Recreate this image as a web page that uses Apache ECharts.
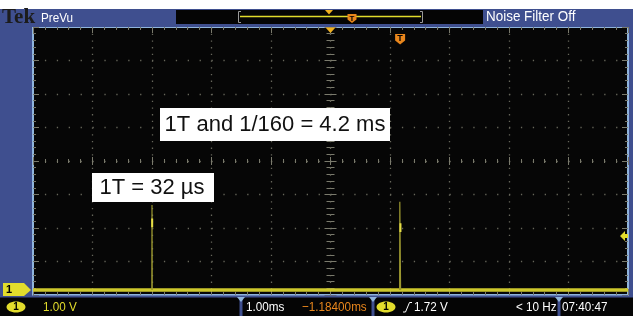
<!DOCTYPE html>
<html>
<head>
<meta charset="utf-8">
<script src="https://cdn.jsdelivr.net/npm/echarts@6/dist/echarts.min.js"></script>
<style>
  html, body { margin: 0; padding: 0; background: #fff; }
  #chart { width: 633px; height: 316px; }
</style>
</head>
<body>
<div id="chart"></div>
<script>
// horizontal: ms relative to screen centre (1.00 ms/div), vertical: divisions (1.00 V/div)
const xRange = [-5, 5]
const yRange = [-4, 4]

// ch1 baseline (ground sits just above the bottom graticule line)
const baseT = [-5, -3.0, -2.99, 1.16, 1.18, 5]
const baseV = [-3.85, -3.85, -3.85, -3.85, -3.85, -3.85]

// the two pulses, 4.2 ms apart
const pulseT = [-3.003, -3.0, -2.996, null, 1.162, 1.165, 1.178]
const pulseV = [-3.85, -1.31, -3.85, null, -3.85, -1.22, -3.85]

// brighter part of each pulse
const glowT = [-2.997, -2.997, null, 1.176, 1.176]
const glowV = [-1.72, -1.98, null, -1.86, -2.12]

// markers
const groundLevel = -3.85
const trigLevel = -2.24
const trigTime = 1.17

const annoTexts = ['1T and 1/160 = 4.2 ms', '1T = 32 µs']

const zip = (t, v) => t.map((x, i) => (x === null ? null : [x, v[i]]))

const BLUE = '#3f4f8f'
const EDGE = '#8fb4dc'
const TICK = '#7a7a6c'
const YEL = '#e2dc2c'
const ORANGE = '#e8861c'
const SANS = '"Liberation Sans", Arial, sans-serif'

function xAx(opt) {
  return Object.assign({
    type: 'value', min: xRange[0], max: xRange[1], interval: 1,
    axisLabel: { show: false },
    axisLine: { show: false, onZero: false },
    axisTick: { show: true, inside: true, length: 6, lineStyle: { color: TICK } },
    minorTick: { show: true, splitNumber: 5, length: 3, lineStyle: { color: TICK } },
    splitLine: { show: false }
  }, opt)
}
function yAx(opt) {
  return Object.assign({
    type: 'value', min: yRange[0], max: yRange[1], interval: 1,
    axisLabel: { show: false },
    axisLine: { show: false, onZero: false },
    axisTick: { show: true, inside: true, length: 6, lineStyle: { color: TICK } },
    minorTick: { show: true, splitNumber: 5, length: 3, lineStyle: { color: TICK } },
    splitLine: { show: false }
  }, opt)
}

const chart = echarts.init(document.getElementById('chart'))

chart.setOption({
  backgroundColor: '#ffffff',
  animation: false,
  grid: { left: 33, top: 27, width: 595, height: 268, show: true, backgroundColor: '#060606', borderWidth: 0 },
  xAxis: [
    xAx({
      position: 'bottom',
      axisLine: { show: true, onZero: false, lineStyle: { color: EDGE, width: 2 } },
      splitLine: { show: true, lineStyle: { color: '#66665a', width: 1.3, type: [1.3, 5.4] } }
    }),
    xAx({ position: 'top', axisLine: { show: true, onZero: false, lineStyle: { color: EDGE, width: 2 } } }),
    // centre crosshair ticks, both sides
    xAx({ position: 'bottom', offset: -134, axisTick: { show: true, inside: true, length: 4, lineStyle: { color: TICK } }, minorTick: { show: true, splitNumber: 5, length: 2, lineStyle: { color: TICK } } }),
    xAx({ position: 'bottom', offset: -134, axisTick: { show: true, inside: false, length: 4, lineStyle: { color: TICK } }, minorTick: { show: true, splitNumber: 5, length: 2, lineStyle: { color: TICK } } })
  ],
  yAxis: [
    yAx({
      position: 'left',
      axisLine: { show: true, onZero: false, lineStyle: { color: EDGE, width: 2 } },
      splitLine: { show: true, lineStyle: { color: '#66665a', width: 1.3, type: [1.3, 10.6] } }
    }),
    yAx({ position: 'right', axisLine: { show: true, onZero: false, lineStyle: { color: EDGE, width: 2 } } }),
    yAx({ position: 'left', offset: -297.5, axisTick: { show: true, inside: true, length: 6, lineStyle: { color: TICK } }, minorTick: { show: true, splitNumber: 5, length: 4, lineStyle: { color: TICK } } }),
    yAx({ position: 'left', offset: -297.5, axisTick: { show: true, inside: false, length: 6, lineStyle: { color: TICK } }, minorTick: { show: true, splitNumber: 5, length: 4, lineStyle: { color: TICK } } })
  ],
  series: [
    {
      name: 'baseline', type: 'line', data: zip(baseT, baseV), symbol: 'none',
      lineStyle: { color: '#cdc72c', width: 3.5 }, z: 3
    },
    {
      name: 'pulse', type: 'line', data: zip(pulseT, pulseV), symbol: 'none', connectNulls: false,
      lineStyle: { color: '#9c9830', width: 1.2 }, z: 4
    },
    {
      name: 'glow', type: 'line', data: zip(glowT, glowV), symbol: 'none', connectNulls: false,
      lineStyle: { color: '#e6de46', width: 2 }, z: 5
    }
  ]
})

const px = (x, y) => chart.convertToPixel({ gridIndex: 0 }, [x, y])
const gnd = px(xRange[0], groundLevel)
const trg = px(xRange[1], trigLevel)
const ctr = px(0, yRange[1])
const tpos = px(trigTime, yRange[1])

function badge(x, y) {
  return [
    { type: 'ellipse', shape: { cx: x + 9, cy: y, rx: 9.5, ry: 5.5 }, style: { fill: YEL }, z: 20 },
    { type: 'text', style: { text: '1', x: x + 9, y: y + 0.5, fill: '#000', font: 'bold 10px ' + SANS, align: 'center', verticalAlign: 'middle' }, z: 21 }
  ]
}
function sep(x) {
  return [
    { type: 'rect', shape: { x: x - 1.5, y: 297, width: 3, height: 19 }, style: { fill: BLUE }, z: 20 },
    { type: 'polygon', shape: { points: [[x - 4, 297], [x + 4, 297], [x, 302]] }, style: { fill: EDGE }, z: 21 }
  ]
}
// condensed readout text, like the scope's own font
function txt(text, x, y, fill, size, sx) {
  return {
    type: 'text', x, y, scaleX: sx == null ? 0.9 : sx,
    style: { text, x: 0, y: 0, fill, font: size + 'px ' + SANS, verticalAlign: 'middle' },
    z: 22
  }
}

const g = [
  // frame
  { type: 'rect', shape: { x: 0, y: 9, width: 633, height: 18 }, style: { fill: BLUE }, z: 10 },
  { type: 'rect', shape: { x: 0, y: 9, width: 32, height: 288 }, style: { fill: BLUE }, z: 10 },
  { type: 'rect', shape: { x: 629, y: 9, width: 4, height: 288 }, style: { fill: BLUE }, z: 10 },
  { type: 'rect', shape: { x: 0, y: 296, width: 633, height: 20 }, style: { fill: '#050505' }, z: 10 },
  { type: 'rect', shape: { x: 0, y: 295.5, width: 633, height: 2 }, style: { fill: BLUE }, z: 11 },

  // top status bar
  { type: 'text', style: { text: 'Tek', x: 2, y: 7, fill: '#1c1c1c', font: 'bold 21px "Liberation Serif", "DejaVu Serif", serif' }, z: 22 },
  txt('PreVu', 41, 18, '#ffffff', 13, 0.9),
  { type: 'rect', shape: { x: 176, y: 10, width: 307, height: 14 }, style: { fill: '#050505' }, z: 15 },
  { type: 'polyline', shape: { points: [[241, 11.5], [238.5, 11.5], [238.5, 22.5], [241, 22.5]] }, style: { stroke: '#9a9a9a', lineWidth: 1, fill: null }, z: 16 },
  { type: 'polyline', shape: { points: [[420, 11.5], [422.5, 11.5], [422.5, 22.5], [420, 22.5]] }, style: { stroke: '#9a9a9a', lineWidth: 1, fill: null }, z: 16 },
  { type: 'line', shape: { x1: 240, y1: 16.5, x2: 421, y2: 16.5 }, style: { stroke: YEL, lineWidth: 1.5 }, z: 16 },
  { type: 'polygon', shape: { points: [[325, 10], [333, 10], [329, 14.5]] }, style: { fill: '#f0b020' }, z: 17 },
  { type: 'polygon', shape: { points: [[347.5, 14], [356.5, 14], [356.5, 19.5], [352, 23], [347.5, 19.5]] }, style: { fill: ORANGE }, z: 17 },
  { type: 'text', style: { text: 'T', x: 352, y: 18.5, fill: '#000', font: 'bold 8px ' + SANS, align: 'center', verticalAlign: 'middle' }, z: 18 },
  txt('Noise Filter Off', 486, 17, '#ffffff', 14, 0.96),

  // in-graticule markers
  { type: 'polygon', shape: { points: [[ctr[0] - 5, 27.5], [ctr[0] + 5, 27.5], [ctr[0], 33]] }, style: { fill: '#f0b020' }, z: 17 },
  { type: 'polygon', shape: { points: [[tpos[0] - 5, 34], [tpos[0] + 5, 34], [tpos[0] + 5, 40.5], [tpos[0], 44.5], [tpos[0] - 5, 40.5]] }, style: { fill: ORANGE }, z: 17 },
  { type: 'text', style: { text: 'T', x: tpos[0], y: 39, fill: '#000', font: 'bold 9px ' + SANS, align: 'center', verticalAlign: 'middle' }, z: 18 },

  // channel 1 ground marker
  { type: 'polygon', shape: { points: [[3, gnd[1] - 7], [24, gnd[1] - 7], [31, gnd[1]], [24, gnd[1] + 6], [3, gnd[1] + 6]] }, style: { fill: YEL }, z: 17 },
  { type: 'text', style: { text: '1', x: 9, y: gnd[1], fill: '#000', font: 'bold 11px ' + SANS, align: 'center', verticalAlign: 'middle' }, z: 18 },

  // trigger level arrow
  { type: 'polygon', shape: { points: [[trg[0] - 8, trg[1]], [trg[0] - 3, trg[1] - 5], [trg[0] - 3, trg[1] - 2], [trg[0], trg[1] - 2], [trg[0], trg[1] + 2], [trg[0] - 3, trg[1] + 2], [trg[0] - 3, trg[1] + 5]] }, style: { fill: YEL }, z: 17 },

  // annotation boxes
  { type: 'rect', shape: { x: 160, y: 108, width: 230, height: 33 }, style: { fill: '#ffffff' }, z: 25 },
  { type: 'text', style: { text: annoTexts[0], x: 275, y: 125, fill: '#111', font: '22px ' + SANS, align: 'center', verticalAlign: 'middle' }, z: 26 },
  { type: 'rect', shape: { x: 92, y: 173, width: 122, height: 29 }, style: { fill: '#ffffff' }, z: 25 },
  { type: 'text', style: { text: annoTexts[1], x: 152, y: 188, fill: '#111', font: '22px ' + SANS, align: 'center', verticalAlign: 'middle' }, z: 26 },

  // bottom readout
  ...badge(7, 307),
  txt('1.00 V', 43, 307.5, YEL, 13),
  ...sep(241),
  txt('1.00ms', 246, 307.5, '#ffffff', 13),
  txt('\u22121.18400ms', 302, 307.5, ORANGE, 13),
  ...sep(373),
  ...badge(377, 307),
  { type: 'polyline', shape: { points: [[403, 312], [405.5, 312], [409.5, 302.5], [412, 302.5]] }, style: { stroke: '#ffffff', lineWidth: 1, fill: null }, z: 22 },
  txt('1.72 V', 414, 307.5, '#ffffff', 13),
  txt('< 10 Hz', 516, 307.5, '#ffffff', 13),
  ...sep(559),
  txt('07:40:47', 562, 307.5, '#ffffff', 13)
]

chart.setOption({ graphic: g })
</script>
</body>
</html>
